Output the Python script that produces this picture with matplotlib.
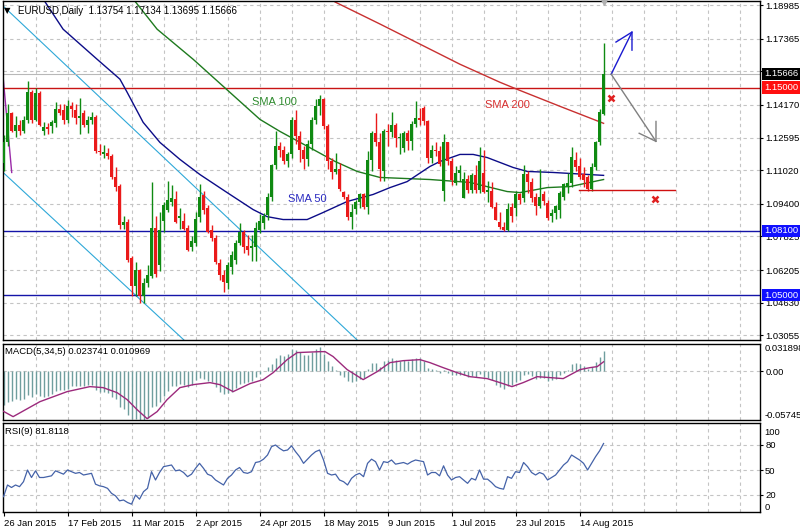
import matplotlib
matplotlib.use("Agg")
import matplotlib.pyplot as plt
import numpy as np

plt.rcParams['font.family'] = ['Liberation Sans', 'DejaVu Sans']

# ---------------- data ----------------
date_ticks = [0, 16, 32, 48, 64, 80, 96, 112, 128, 144]
date_labels = ['26 Jan 2015', '17 Feb 2015', '11 Mar 2015', '2 Apr 2015', '24 Apr 2015',
               '18 May 2015', '9 Jun 2015', '1 Jul 2015', '23 Jul 2015', '14 Aug 2015']

opens = [
    1.1135, 1.1240, 1.1380, 1.1290, 1.1320, 1.1290, 1.1345, 1.1478, 1.1345, 1.1475,
    1.1290, 1.1310, 1.1313, 1.1330, 1.1398, 1.1390, 1.1345, 1.1410, 1.1390, 1.1355,
    1.1380, 1.1320, 1.1345, 1.1360, 1.1195, 1.1180, 1.1185, 1.1170, 1.1070, 1.1025,
    1.0840, 1.0850, 1.0680, 1.0545, 1.0620, 1.0495, 1.0560, 1.0590, 1.0825, 1.0645,
    1.0855, 1.0912, 1.0950, 1.0965, 1.0870, 1.0858, 1.0825, 1.0730, 1.0750, 1.0875,
    1.0980, 1.0921, 1.0815, 1.0777, 1.0656, 1.0598, 1.0560, 1.0636, 1.0670, 1.0753,
    1.0806, 1.0738, 1.0725, 1.0730, 1.0815, 1.0845, 1.0888, 1.0975, 1.1125, 1.1218,
    1.1200, 1.1145, 1.1180, 1.1345, 1.1265, 1.1200, 1.1155, 1.1230, 1.1345, 1.1410,
    1.1445, 1.1315, 1.1145, 1.1095, 1.1110, 1.0995, 1.0975, 1.0875, 1.0915, 1.0950,
    1.0985, 1.0925, 1.1150, 1.1280, 1.1240, 1.1100, 1.1290, 1.1285, 1.1320, 1.1255,
    1.1210, 1.1280, 1.1245, 1.1325, 1.1355, 1.1400, 1.1338, 1.1160, 1.1200, 1.1195,
    1.1000, 1.1236, 1.1145, 1.1040, 1.1090, 1.0970, 1.1060, 1.1005, 1.1080, 1.1005,
    1.1090, 1.0995, 1.1000, 1.0925, 1.0853, 1.0830, 1.0815, 1.0925, 1.0922, 1.0985,
    1.0970, 1.1082, 1.1045, 1.0975, 1.0927, 1.0985, 1.0946, 1.0880, 1.0897, 1.0912,
    1.0975, 1.1020, 1.1040, 1.1150, 1.1120, 1.1085, 1.1070, 1.1010, 1.1115, 1.1236,
    1.13754]
highs = [
    1.1270, 1.1423, 1.1385, 1.1365, 1.1345, 1.1365, 1.1533, 1.1490, 1.1498, 1.1485,
    1.1335, 1.1330, 1.1345, 1.1430, 1.1420, 1.1420, 1.1440, 1.1430, 1.1420, 1.1450,
    1.1390, 1.1365, 1.1385, 1.1370, 1.1230, 1.1225, 1.1210, 1.1180, 1.1115, 1.1035,
    1.0880, 1.0865, 1.0690, 1.0660, 1.0625, 1.0580, 1.0645, 1.1043, 1.0880, 1.0900,
    1.0950, 1.1052, 1.1030, 1.1000, 1.0920, 1.0895, 1.0840, 1.0785, 1.0900, 1.1035,
    1.1000, 1.0935, 1.0840, 1.0790, 1.0675, 1.0620, 1.0660, 1.0710, 1.0765, 1.0848,
    1.0815, 1.0790, 1.0790, 1.0850, 1.0890, 1.0895, 1.0990, 1.1130, 1.1290, 1.1240,
    1.1220, 1.1190, 1.1360, 1.1392, 1.1290, 1.1220, 1.1250, 1.1360, 1.1445, 1.1467,
    1.1450, 1.1325, 1.1160, 1.1185, 1.1135, 1.1000, 1.0985, 1.0940, 1.0960, 1.0990,
    1.0990, 1.1195, 1.1290, 1.1380, 1.1280, 1.1300, 1.1325, 1.1385, 1.1330, 1.1280,
    1.1290, 1.1295, 1.1340, 1.1436, 1.1400, 1.1410, 1.1345, 1.1225, 1.1240, 1.1220,
    1.1278, 1.1240, 1.1160, 1.1120, 1.1125, 1.1095, 1.1080, 1.1090, 1.1125, 1.1215,
    1.1200, 1.1050, 1.1045, 1.0950, 1.0900, 1.0850, 1.0945, 1.0945, 1.1000, 1.0990,
    1.1128, 1.1100, 1.1065, 1.0990, 1.1110, 1.1000, 1.0960, 1.0915, 1.0935, 1.1000,
    1.1040, 1.1090, 1.1215, 1.1190, 1.1160, 1.1115, 1.1080, 1.1135, 1.1245, 1.1395,
    1.17134]
lows = [
    1.1098, 1.1220, 1.1285, 1.1262, 1.1270, 1.1280, 1.1330, 1.1330, 1.1340, 1.1315,
    1.1270, 1.1275, 1.1280, 1.1310, 1.1370, 1.1325, 1.1330, 1.1360, 1.1325, 1.1275,
    1.1310, 1.1280, 1.1325, 1.1185, 1.1175, 1.1160, 1.1155, 1.1060, 1.1000, 1.0820,
    1.0820, 1.0660, 1.0495, 1.0495, 1.0460, 1.0460, 1.0540, 1.0580, 1.0585, 1.0615,
    1.0805, 1.0900, 1.0930, 1.0845, 1.0820, 1.0815, 1.0712, 1.0710, 1.0735, 1.0850,
    1.0890, 1.0800, 1.0760, 1.0650, 1.0570, 1.0515, 1.0530, 1.0600, 1.0650, 1.0740,
    1.0705, 1.0695, 1.0665, 1.0665, 1.0800, 1.0820, 1.0860, 1.0955, 1.1110, 1.1165,
    1.1130, 1.1115, 1.1160, 1.1230, 1.1140, 1.1110, 1.1120, 1.1200, 1.1325, 1.1370,
    1.1300, 1.1110, 1.1060, 1.1085, 1.1000, 1.0965, 1.0860, 1.0818, 1.0890, 1.0920,
    1.0915, 1.0890, 1.1100, 1.1220, 1.1050, 1.1050, 1.1220, 1.1260, 1.1215, 1.1180,
    1.1190, 1.1200, 1.1200, 1.1310, 1.1320, 1.1320, 1.1135, 1.1135, 1.1170, 1.1120,
    1.0955, 1.1125, 1.1030, 1.1030, 1.1050, 1.0968, 1.0990, 1.0990, 1.0990, 1.0990,
    1.0990, 1.0950, 1.0920, 1.0860, 1.0820, 1.0808, 1.0810, 1.0850, 1.0880, 1.0940,
    1.0950, 1.0990, 1.0950, 1.0885, 1.0920, 1.0935, 1.0860, 1.0850, 1.0865, 1.0870,
    1.0960, 1.0990, 1.1020, 1.1100, 1.1060, 1.1020, 1.1000, 1.1000, 1.1105, 1.1225,
    1.13695]
closes = [
    1.1240, 1.1380, 1.1290, 1.1320, 1.1290, 1.1345, 1.1478, 1.1345, 1.1475, 1.1320,
    1.1310, 1.1300, 1.1333, 1.1398, 1.1380, 1.1345, 1.1410, 1.1395, 1.1355, 1.1365,
    1.1320, 1.1345, 1.1360, 1.1195, 1.1190, 1.1190, 1.1170, 1.1070, 1.1020, 1.0840,
    1.0850, 1.0670, 1.0545, 1.0620, 1.0495, 1.0560, 1.0595, 1.0825, 1.0600, 1.0815,
    1.0935, 1.0960, 1.0970, 1.0850, 1.0880, 1.0820, 1.0718, 1.0760, 1.0866, 1.0975,
    1.0912, 1.0805, 1.0777, 1.0660, 1.0598, 1.0564, 1.0646, 1.0695, 1.0753, 1.0806,
    1.0733, 1.0718, 1.0738, 1.0825, 1.0858, 1.0882, 1.0975, 1.1125, 1.1218, 1.1200,
    1.1145, 1.1180, 1.1345, 1.1265, 1.1200, 1.1155, 1.1230, 1.1345, 1.1410, 1.1445,
    1.1315, 1.1145, 1.1095, 1.1110, 1.1010, 1.0975, 1.0875, 1.0900, 1.0950, 1.0985,
    1.0925, 1.1150, 1.1280, 1.1240, 1.1110, 1.1290, 1.1285, 1.1320, 1.1255, 1.1260,
    1.1280, 1.1245, 1.1325, 1.1355, 1.1345, 1.1340, 1.1160, 1.1200, 1.1195, 1.1130,
    1.1236, 1.1145, 1.1055, 1.1090, 1.1105, 1.1060, 1.1005, 1.1080, 1.1005, 1.1147,
    1.0995, 1.1005, 1.0925, 1.0862, 1.0830, 1.0815, 1.0916, 1.0880, 1.0985, 1.0960,
    1.1082, 1.1045, 1.0970, 1.0927, 1.0975, 1.0955, 1.0873, 1.0897, 1.0930, 1.0994,
    1.1033, 1.1040, 1.1165, 1.1115, 1.1067, 1.1055, 1.1010, 1.1115, 1.1236, 1.1381,
    1.15666]

# moving averages, read at a few bars
sma50_bars = [9.9, 14.9, 23.4, 29.1, 30.9, 34.9, 39.1, 44.1, 49.1, 55.9, 62.4, 65.9, 69.9,
              75.9, 79.9, 85.9, 92.4, 96.6, 100.9, 106.6, 109.1, 114.1, 117.4, 120.9,
              127.4, 130.9, 137.4, 150]
sma50_vals = [1.1928, 1.1782, 1.1637, 1.1541, 1.1478, 1.1333, 1.1236, 1.1154, 1.1081, 1.0994,
              1.0912, 1.0878, 1.0864, 1.0864, 1.0898, 1.0951, 1.0985, 1.1018, 1.1047, 1.1120,
              1.1144, 1.1178, 1.1178, 1.1163, 1.1115, 1.1096, 1.1091, 1.1077]
sma100_bars = [32.4, 38.4, 47.4, 64.1, 69.1, 77.4, 82.9, 88.4, 94.1, 106.6, 116.6, 125.9,
               129.1, 135.9, 141.6, 150]
sma100_vals = [1.1928, 1.1782, 1.1637, 1.1347, 1.1289, 1.1202, 1.1144, 1.1096, 1.1067, 1.1057,
               1.1043, 1.0999, 1.0994, 1.1018, 1.1023, 1.1057]
sma200_bars = [82.9, 94.1, 104.1, 114.1, 124.1, 128.4, 139.1, 150]
sma200_vals = [1.1913, 1.1807, 1.1710, 1.1613, 1.1526, 1.1492, 1.1410, 1.1328]

# drawn objects
chan_upper_bars, chan_upper_vals = [-0.1, 88.4], [1.1894, 1.0283]
chan_lower_bars, chan_lower_vals = [-0.1, 45.1], [1.1091, 1.0283]
purple_bars, purple_vals = [-0.05, 2.05], [1.1541, 1.1091]
red_levels = [1.15000]
blue_levels = [1.08100, 1.05000]
support_bars, support_val = [143.9, 167.9], 1.1005
blue_arrow_bars, blue_arrow_vals = [151.9, 157.1], [1.1565, 1.1768]
blue_head_bars, blue_head_vals = [153.1, 157.1, 157.1], [1.1720, 1.1768, 1.1681]
gray_arrow_bars, gray_arrow_vals = [151.9, 163.1], [1.1565, 1.1241]
gray_head_bars, gray_head_vals = [158.9, 163.1, 163.1], [1.1280, 1.1241, 1.1337]
cross_bars, cross_vals = [151.9, 162.9], [1.1449, 1.0965]
last_price = 1.15666
price_grid = [1.18985, 1.17365, 1.15790, 1.14170, 1.12595, 1.11020, 1.09400,
              1.07825, 1.06205, 1.04630, 1.03055]
hidden_grid_label = 1.15790  # sits behind the last-price box

# MACD(5,34,5)
macd_hist = [
    -0.040, -0.036, -0.035, -0.033, -0.034, -0.033, -0.028, -0.030, -0.027, -0.029,
    -0.030, -0.029, -0.027, -0.023, -0.022, -0.022, -0.021, -0.018, -0.018, -0.017,
    -0.017, -0.016, -0.016, -0.022, -0.024, -0.024, -0.026, -0.030, -0.033, -0.042,
    -0.045, -0.051, -0.056, -0.056, -0.0574, -0.057, -0.055, -0.042, -0.041, -0.036,
    -0.029, -0.023, -0.018, -0.017, -0.015, -0.016, -0.019, -0.016, -0.011, -0.008,
    -0.009, -0.012, -0.013, -0.019, -0.024, -0.027, -0.026, -0.024, -0.020, -0.015,
    -0.014, -0.013, -0.012, -0.007, -0.003, 0.000, 0.005, 0.008, 0.015, 0.019,
    0.018, 0.020, 0.026, 0.025, 0.022, 0.019, 0.019, 0.022, 0.026, 0.028,
    0.020, 0.012, 0.006, 0.001, -0.004, -0.007, -0.012, -0.013, -0.012, -0.009,
    -0.008, 0.002, 0.010, 0.010, 0.005, 0.012, 0.013, 0.015, 0.013, 0.012,
    0.013, 0.012, 0.014, 0.016, 0.016, 0.012, 0.004, 0.002, 0.001, -0.002,
    0.001, -0.002, -0.004, -0.004, -0.004, -0.005, -0.007, -0.006, -0.007, -0.003,
    -0.007, -0.008, -0.011, -0.016, -0.019, -0.021, -0.017, -0.016, -0.013, -0.011,
    -0.004, -0.003, -0.006, -0.009, -0.008, -0.008, -0.012, -0.011, -0.009, -0.005,
    -0.002, 0.001, 0.008, 0.009, 0.008, 0.006, 0.002, 0.005, 0.011, 0.017,
    0.023741]
signal_bars = [0, 2.4, 9.1, 15.9, 21.6, 24.9, 28.4, 30.9, 33.4, 35.9, 38.4, 40.9, 44.1, 47.4,
               51.6, 54.1, 57.4, 61.6, 64.9, 67.4, 70.9, 73.4, 79.1, 80.4, 82.4, 85.9, 89.9,
               93.4, 96.6, 99.9, 104.1, 106.6, 109.9, 113.4, 116.6, 120.9, 124.1, 127.1,
               129.9, 133.4, 136.6, 139.9, 144.1, 146.6, 148.4, 150]
signal_vals = [-0.0473, -0.0535, -0.0359, -0.0241, -0.0182, -0.0194, -0.0253, -0.0335, -0.0453,
               -0.0559, -0.0476, -0.0335, -0.0194, -0.0159, -0.0135, -0.0159, -0.0241, -0.0147,
               -0.0100, -0.0018, 0.0135, 0.0218, 0.0229, 0.0229, 0.0171, 0.0018, -0.0100,
               -0.0006, 0.0100, 0.0123, 0.0135, 0.0100, 0.0041, -0.0018, -0.0065, -0.0088,
               -0.0135, -0.0182, -0.0135, -0.0065, -0.0076, -0.0088, 0.0018, 0.0041, 0.0053,
               0.010969]

# RSI(9)
rsi = [
    18, 32, 29, 32, 30, 36, 50, 41, 49, 41, 41, 42, 43, 49, 47, 45, 50, 48, 46, 47,
    44, 45, 46, 33, 31, 30, 28, 22, 19, 13, 14, 11, 9, 20, 15, 24, 28, 48, 38, 47,
    54, 55, 56, 49, 50, 47, 42, 45, 52, 58, 52, 45, 43, 38, 35, 32, 40, 44, 50, 53,
    47, 46, 48, 59, 60, 63, 68, 78, 80, 76, 73, 74, 79, 72, 66, 58, 63, 68, 72, 74,
    62, 46, 44, 45, 38, 36, 32, 40, 44, 46, 42, 58, 63, 60, 50, 60, 59, 62, 57, 58,
    59, 57, 60, 62, 61, 60, 44, 47, 47, 43, 55, 44, 38, 41, 42, 38, 34, 40, 38, 50,
    39, 39, 35, 30, 28, 27, 42, 40, 48, 47, 59, 54, 47, 44, 47, 45, 38, 41, 44, 50,
    56, 60, 68, 65, 62, 58, 50, 58, 66, 73, 81.8118]

# ---------------- figure ----------------
W, H = 800, 530
fig = plt.figure(figsize=(8, 5.3), dpi=100)
fig.patch.set_facecolor('white')


def rect(top, bottom, left=3, right=760):
    return [left / W, 1 - bottom / H, (right - left) / W, (bottom - top) / H]


ax = fig.add_axes(rect(1, 340))
axm = fig.add_axes(rect(344, 420))
axr = fig.add_axes(rect(423, 512))

xmin, xmax = -0.125, 189.1
grid_kw = dict(color='#c4c4c4', lw=0.8, ls=(0, (3, 3)), zorder=0)
small = 6.8
lab_x = 1.0055

for a in (ax, axm, axr):
    a.set_xlim(xmin, xmax)
    for s in a.spines.values():
        s.set_color('black')
        s.set_linewidth(1)
    a.yaxis.tick_right()
    a.tick_params(axis='y', length=2.5, pad=1.2, labelsize=small, direction='out')
    for b in range(8, 190, 8):
        a.axvline(b, **grid_kw)

x = np.arange(len(closes))
o = np.array(opens)
c = np.array(closes)
up = c >= o
cols = np.where(up, '#0f8a12', '#ea1a1a')

# main panel
ax.set_ylim(1.0283, 1.1918)
for lv in price_grid:
    ax.axhline(lv, **grid_kw)
ax.set_yticks(price_grid)
ax.set_yticklabels(['' if lv == hidden_grid_label else f'{lv:.5f}' for lv in price_grid])
ax.set_xticks([])

ax.plot(chan_upper_bars, chan_upper_vals, color='#2ea8d8', lw=0.8, zorder=1)
ax.plot(chan_lower_bars, chan_lower_vals, color='#2ea8d8', lw=0.8, zorder=1)
ax.plot(purple_bars, purple_vals, color='#9a2aa8', lw=1, zorder=1)
ax.axhline(last_price, color='#b8b8b8', lw=0.8, zorder=1)
for lv in red_levels:
    ax.axhline(lv, color='#c81414', lw=1, zorder=2)
for lv in blue_levels:
    ax.axhline(lv, color='#1414a8', lw=1, zorder=2)

ax.plot(sma200_bars, sma200_vals, color='#c83030', lw=1, zorder=2)
ax.plot(sma100_bars, sma100_vals, color='#1e7a1e', lw=1, zorder=2)
ax.plot(sma50_bars, sma50_vals, color='#0c0c88', lw=1, zorder=2)

ax.vlines(x, lows, highs, colors=cols, lw=1, zorder=3)
body = np.maximum(np.abs(c - o), 0.0003)
ax.bar(x, body, bottom=np.minimum(o, c), width=0.72, color=cols, lw=0, zorder=4)

ax.plot(support_bars, [support_val, support_val], color='#d01010', lw=1, zorder=3)
ax.plot(blue_arrow_bars, blue_arrow_vals, color='#1a1ad0', lw=1, zorder=5)
ax.plot(blue_head_bars, blue_head_vals, color='#1a1ad0', lw=1, zorder=5)
ax.plot(gray_arrow_bars, gray_arrow_vals, color='#808080', lw=1, zorder=5)
ax.plot(gray_head_bars, gray_head_vals, color='#808080', lw=1, zorder=5)
ax.plot(cross_bars, cross_vals, ls='none', marker='x', ms=5, mew=1.8,
        color='#e02020', zorder=6)
ax.plot([x[-1]], [1.1918], marker='v', ms=6, color='#b0b0b0', clip_on=False, zorder=6)

ax.text(62.1, 1.1429, 'SMA 100', fontsize=8, color='#2e8a2e', va='center')
ax.text(71.1, 1.0965, 'SMA 50', fontsize=8, color='#2a2ac0', va='center')
ax.text(120.4, 1.1415, 'SMA 200', fontsize=8, color='#d83030', va='center')

tr = ax.get_yaxis_transform()
box_kw = dict(transform=tr, ha='left', va='center', fontsize=small, color='white',
              clip_on=False, zorder=20)
ax.text(lab_x, last_price, f'{last_price:.5f}',
        bbox=dict(boxstyle='square,pad=0.18', fc='black', ec='none'), **box_kw)
for lv in red_levels:
    ax.text(lab_x, lv, f'{lv:.5f}',
            bbox=dict(boxstyle='square,pad=0.18', fc='#ff1010', ec='none'), **box_kw)
for lv in blue_levels:
    ax.text(lab_x, lv, f'{lv:.5f}',
            bbox=dict(boxstyle='square,pad=0.18', fc='#1010ff', ec='none'), **box_kw)

fig.text(4 / W, 1 - 11 / H, '\u25bc', fontsize=6, va='center', ha='left',
         family=['DejaVu Sans'])
fig.text(18 / W, 1 - 11 / H, 'EURUSD,Daily  1.13754 1.17134 1.13695 1.15666',
         fontsize=7, va='center', ha='left')

# MACD panel
mtop, mbot = 0.031898, -0.05745
axm.set_ylim(mbot, mtop)
axm.axhline(0, **grid_kw)
axm.vlines(x, 0, macd_hist, colors='#6f9e9e', lw=1, zorder=2)
axm.plot(signal_bars, signal_vals, color='#9c2a7c', lw=1, zorder=3)
axm.set_yticks([0])
axm.set_yticklabels(['0.00'])
axm.set_xticks([])
mtr = axm.get_yaxis_transform()
axm.text(lab_x, mtop, '0.031898', transform=mtr, fontsize=small, va='top', ha='left',
         clip_on=False)
axm.text(lab_x, mbot, '-0.05745', transform=mtr, fontsize=small, va='bottom', ha='left',
         clip_on=False)
axm.text(0.003, 0.895, 'MACD(5,34,5) 0.023741 0.010969', transform=axm.transAxes,
         fontsize=small, va='center', ha='left')

# RSI panel
axr.set_ylim(-0.4, 106.4)
for lv in (80, 50, 20):
    axr.axhline(lv, **grid_kw)
axr.plot(x, rsi, color='#4462a8', lw=0.9, zorder=3)
axr.set_yticks([80, 50, 20])
axr.set_yticklabels(['80', '50', '20'])
rtr = axr.get_yaxis_transform()
axr.text(lab_x, 100, '100', transform=rtr, fontsize=small, va='top', ha='left',
         clip_on=False)
axr.text(lab_x, 0, '0', transform=rtr, fontsize=small, va='bottom', ha='left',
         clip_on=False)
axr.text(0.003, 0.9, 'RSI(9) 81.8118', transform=axr.transAxes,
         fontsize=small, va='center', ha='left')
axr.set_xticks(date_ticks)
axr.set_xticklabels(date_labels, ha='left')
axr.tick_params(axis='x', length=3, pad=2, labelsize=small, direction='out')

fig.savefig('out.png', dpi=100)
